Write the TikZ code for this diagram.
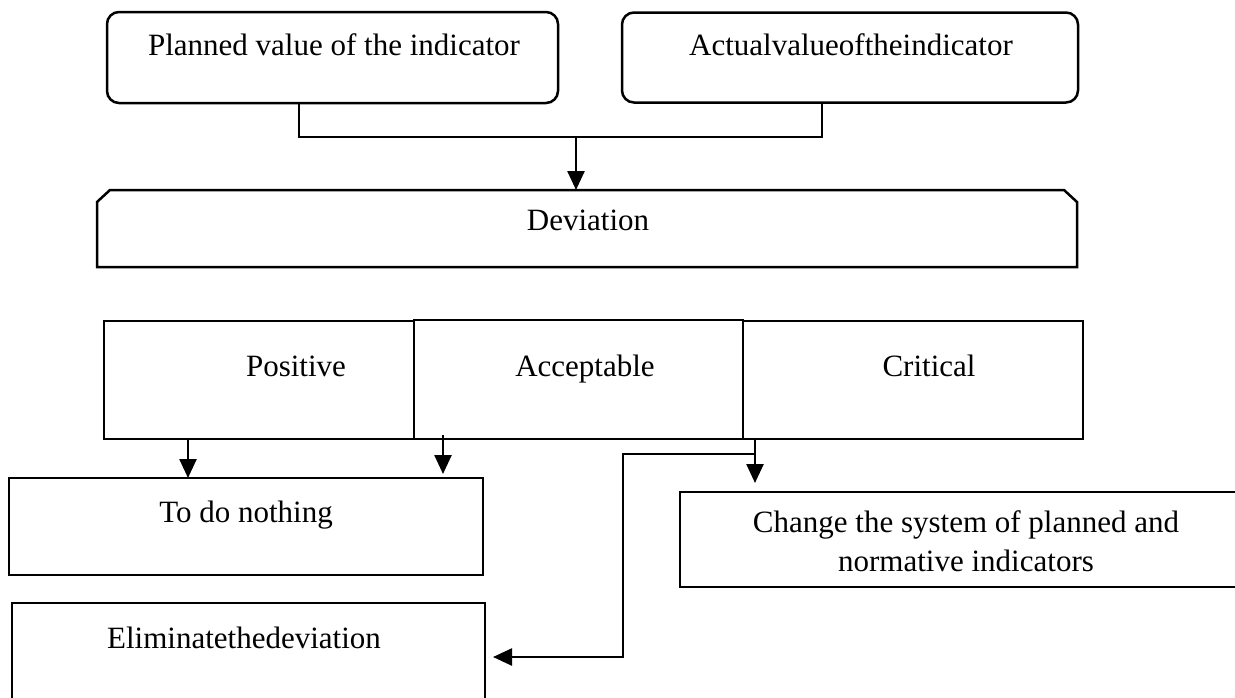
\documentclass[tikz,border=0pt]{standalone}
\usepackage{fontspec}
\setmainfont{Liberation Serif}
\usetikzlibrary{arrows.meta}

\begin{document}
\begin{tikzpicture}[x=1pt,y=-1pt,
  every node/.style={inner sep=0pt,outer sep=0pt},
  box/.style={draw,line width=2.5pt,rectangle},
  rbox/.style={box,rounded corners=12pt},
  area/.style={rectangle},
  txt/.style={anchor=base,font=\fontsize{31}{37}\selectfont},
  link/.style={line width=2.5pt},
  arr/.style={link,-{Triangle[length=19pt,width=17pt]}}]

\useasboundingbox (0,0) rectangle (1235,697);

% source values
\node[rbox,minimum width=451pt,minimum height=91pt] (planned) at (332.5,57.5) {};
\node[rbox,minimum width=456pt,minimum height=90pt] (actual) at (850,57.5) {};
\node[txt] (plannedtxt) at (334,55) {Planned value of the indicator};
\node[txt] (actualtxt) at (851,55) {Actualvalueoftheindicator};

% deviation: box with both upper corners cut off
\node[area,minimum width=980pt,minimum height=77pt] (dev) at (587,228.5) {};
\draw[link,line join=miter]
  (dev.south west) -- ([yshift=-12pt]dev.north west)
  -- ([xshift=13pt]dev.north west) -- ([xshift=-13pt]dev.north east)
  -- ([yshift=-12pt]dev.north east) -- (dev.south east) -- cycle;
\node[txt] (devtxt) at (588,230) {Deviation};

% kinds of deviation
\node[box,minimum width=310pt,minimum height=118pt] (pos) at (259,380) {};
\node[box,minimum width=329pt,minimum height=119pt] (acc) at (578.5,379.5) {};
\node[box,minimum width=340pt,minimum height=118pt] (crit) at (913,380) {};
\node[txt] (postxt) at (296,376) {Positive};
\node[txt] (acctxt) at (585,376) {Acceptable};
\node[txt] (crittxt) at (929,376) {Critical};

% actions
\node[box,minimum width=474pt,minimum height=97pt] (todo) at (246,526.5) {};
\node[txt] (todotxt) at (246,522) {To do nothing};
\node[box,minimum width=473pt,minimum height=102pt] (elim) at (248.5,654) {};
\node[txt] (elimtxt) at (244,648) {Eliminatethedeviation};
\node[box,minimum width=572pt,minimum height=95pt] (chg) at (966,539.5) {};
\node[txt] (chgtxt1) at (966,532) {Change the system of planned and};
\node[txt] (chgtxt2) at (966,571) {normative indicators};

% join of the two values into the deviation
\coordinate (jl) at (299,137);
\coordinate (jr) at (822,137);
\coordinate (jm) at (576,137);
\draw[link] (planned.south -| jl) -- (jl) -- (jr) -- (actual.south -| jr);
\draw[arr] (jm) -- (dev.north -| jm);

% from the kinds to the actions
\coordinate (a1) at (188,439);
\coordinate (a2) at (443,435);
\coordinate (a3) at (755,439);
\draw[arr] (pos.south -| a1) -- (todo.north -| a1);
\draw[arr] (a2) -- ([yshift=4pt]todo.north -| a2);
\draw[arr] (crit.south -| a3) -- ([yshift=9pt]chg.north -| a3);

% branch to eliminating the deviation
\coordinate (b1) at (755,454);
\coordinate (b2) at (623,454);
\coordinate (b3) at (623,657);
\draw[arr] (b1) -- (b2) -- (b3) -- ([xshift=8pt]elim.east |- b3);

\end{tikzpicture}
\end{document}
